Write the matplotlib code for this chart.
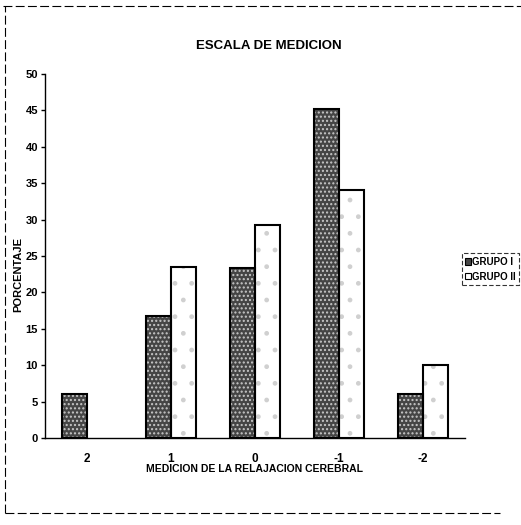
import numpy as np
import matplotlib.pyplot as plt
from matplotlib.patches import Rectangle
from matplotlib.lines import Line2D

plt.rcParams['font.family'] = ['Liberation Sans', 'DejaVu Sans']
plt.rcParams['font.weight'] = 'bold'

categorias = ['2', '1', '0', '-1', '-2']
grupo_1 = [6.0, 16.7, 23.3, 45.2, 6.0]
grupo_2 = [0.0, 23.5, 29.3, 34.1, 10.0]
yticks = [0, 5, 10, 15, 20, 25, 30, 35, 40, 45, 50]

fig = plt.figure(figsize=(5.21, 5.25), dpi=100)
ax = fig.add_axes([0.0864, 0.1657, 0.806, 0.6933])

x = np.arange(len(categorias))
w = 0.3

# grupo I: relleno oscuro punteado, grupo II: blanco con puntos
ax.bar(x - w / 2, grupo_1, w, color='#454545', edgecolor='#c8c8c8',
       hatch='....', linewidth=0, zorder=2)
ax.bar(x - w / 2, grupo_1, w, fill=False, edgecolor='black', linewidth=1.5, zorder=3)
mask = np.array(grupo_2) > 0
ax.bar(x[mask] + w / 2, np.array(grupo_2)[mask], w, color='white',
       edgecolor='#d0d0d0', hatch='.', linewidth=0, zorder=2)
ax.bar(x[mask] + w / 2, np.array(grupo_2)[mask], w, fill=False,
       edgecolor='black', linewidth=1.5, zorder=3)

ax.set_xlim(-0.5, len(categorias) - 0.5)
ax.set_ylim(0, 50)
ax.set_yticks(yticks)
ax.set_xticks(x)
ax.set_xticklabels(categorias, fontsize=8.5, fontweight='bold')
ax.tick_params(axis='x', length=0, pad=11)
ax.tick_params(axis='y', length=3, labelsize=8, width=1, pad=2)
for s in ['top', 'right']:
    ax.spines[s].set_visible(False)
ax.spines['left'].set_linewidth(1)
ax.spines['bottom'].set_linewidth(1)

ax.set_ylabel('PORCENTAJE', fontsize=8, fontweight='bold')
ax.yaxis.set_label_coords(-0.053, 0.45)
ax.set_xlabel('MEDICION DE LA RELAJACION CEREBRAL', fontsize=7.5,
              fontweight='bold', labelpad=-1)
fig.text(0.515, 0.913, 'ESCALA DE MEDICION', ha='center', va='center',
         fontsize=9.5, fontweight='bold')

# leyenda
h1 = Rectangle((0, 0), 1, 1, facecolor='#454545', edgecolor='black', linewidth=0.8)
h2 = Rectangle((0, 0), 1, 1, facecolor='white', edgecolor='black', linewidth=0.8)
leg = fig.legend([h1, h2], ['GRUPO I', 'GRUPO II'], loc='center left',
                 bbox_to_anchor=(0.886, 0.487), fontsize=7, frameon=True,
                 fancybox=False, edgecolor='black', handlelength=0.6,
                 handleheight=0.6, handletextpad=0.15, borderpad=0.35,
                 labelspacing=0.5, borderaxespad=0)
leg.get_frame().set_linewidth(0.8)
leg.get_frame().set_linestyle((0, (4, 2)))

# marco exterior (arriba, izquierda, abajo)
estilo = dict(color='black', linewidth=0.8, linestyle=(0, (8, 3)),
              transform=fig.transFigure)
fig.add_artist(Line2D([0.005, 1.0], [0.988, 0.988], **estilo))
fig.add_artist(Line2D([0.01, 0.01], [0.022, 0.988], **estilo))
fig.add_artist(Line2D([0.01, 0.96], [0.022, 0.022], **estilo))

fig.savefig('out.png', dpi=100)
